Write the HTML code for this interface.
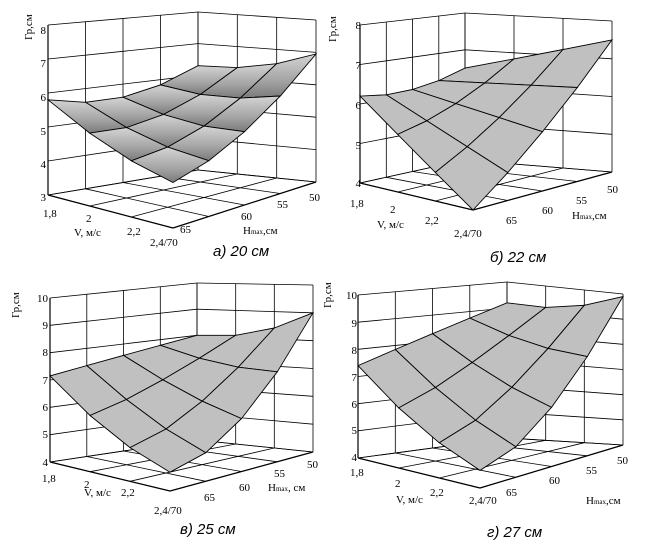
<!DOCTYPE html>
<html><head><meta charset="utf-8">
<style>
body{margin:0;background:#fff;}
svg{display:block;font-family:"Liberation Serif","DejaVu Serif",serif;}
.t{font-size:11px;fill:#000;}
.c{font-size:15px;font-style:italic;fill:#000;font-family:"Liberation Sans",sans-serif;}
</style></head><body>
<svg id="s" width="645" height="548" viewBox="0 0 645 548" xmlns="http://www.w3.org/2000/svg">
<defs>
<linearGradient id="ga" x1="0" y1="0" x2="0" y2="1">
<stop offset="0" stop-color="#d4d4d4"/><stop offset="0.6" stop-color="#a4a4a4"/><stop offset="1" stop-color="#7a7a7a"/>
</linearGradient>
</defs>
<g id="geo"></g>
<g class="t" text-anchor="end">
<text x="46" y="34">8</text><text x="46" y="67">7</text><text x="46" y="101">6</text><text x="46" y="135">5</text><text x="46" y="168">4</text><text x="46" y="201">3</text>
<text x="361" y="29">8</text><text x="361" y="69">7</text><text x="361" y="109">6</text><text x="361" y="149">5</text><text x="361" y="187">4</text>
<text x="48" y="302">10</text><text x="48" y="329">9</text><text x="48" y="356">8</text><text x="48" y="384">7</text><text x="48" y="411">6</text><text x="48" y="438">5</text><text x="48" y="466">4</text>
<text x="357" y="299">10</text><text x="357" y="327">9</text><text x="357" y="354">8</text><text x="357" y="381">7</text><text x="357" y="408">6</text><text x="357" y="434">5</text><text x="357" y="461">4</text>
</g>
<g class="t">
<text transform="translate(32,40) rotate(-90)">Гр,см</text>
<text transform="translate(336,42) rotate(-90)">Гр,см</text>
<text transform="translate(19,318) rotate(-90)">Гр,см</text>
<text transform="translate(331,308) rotate(-90)">Гр,см</text>

<text x="43" y="217">1,8</text><text x="86" y="222">2</text><text x="74" y="236">V, м/с</text><text x="127" y="235">2,2</text><text x="150" y="246">2,4/70</text>
<text x="180" y="233">65</text><text x="241" y="220">60</text><text x="277" y="208">55</text><text x="309" y="201">50</text>
<text x="243" y="234">H<tspan font-size="7">max</tspan>,см</text>

<text x="350" y="207">1,8</text><text x="390" y="213">2</text><text x="377" y="228">V, м/с</text><text x="425" y="224">2,2</text><text x="454" y="237">2,4/70</text>
<text x="506" y="224">65</text><text x="542" y="214">60</text><text x="576" y="204">55</text><text x="607" y="193">50</text>
<text x="572" y="219">H<tspan font-size="7">max</tspan>,см</text>

<text x="42" y="482">1,8</text><text x="84" y="488">2</text><text x="84" y="496">V, м/с</text><text x="121" y="496">2,2</text><text x="154" y="514">2,4/70</text>
<text x="204" y="501">65</text><text x="239" y="491">60</text><text x="274" y="477">55</text><text x="307" y="468">50</text>
<text x="268" y="491">H<tspan font-size="7">max</tspan>, см</text>

<text x="350" y="476">1,8</text><text x="395" y="487">2</text><text x="396" y="503">V, м/с</text><text x="430" y="496">2,2</text><text x="469" y="504">2,4/70</text>
<text x="506" y="496">65</text><text x="549" y="484">60</text><text x="586" y="474">55</text><text x="617" y="464">50</text>
<text x="586" y="504">H<tspan font-size="7">max</tspan>,см</text>
</g>
<text class="c" x="213" y="256">а) 20 см</text>
<text class="c" x="490" y="262">б) 22 см</text>
<text class="c" x="180" y="534">в) 25 см</text>
<text class="c" x="487" y="537">г) 27 см</text>
</svg>
<script>
var P=[
 {zmin:3,zmax:8,fl:[[48,195],[173,228],[316,182],[198,170]],tp:[[48,25],[173,53],[316,20],[198,12]],c:[5.8,4.3,6.95,6.3],s1:0.2,s2:0.45,pw:1,fill:"url(#ga)"},
 {zmin:4,zmax:8,fl:[[360,183],[473,210],[612,172],[465,160]],tp:[[360,25],[473,55],[612,21],[465,13]],c:[6.2,4.0,7.5,6.5],s1:0.0,s2:0.2,pw:1,fill:"#c0c0c0"},
 {zmin:4,zmax:10,fl:[[50,462],[170,491],[313,452],[197,440]],tp:[[50,298],[170,330],[313,285],[197,283]],c:[7.15,4.7,9.0,8.0],s1:0.3,s2:0,pw:1.8,fill:"#c0c0c0"},
 {zmin:4,zmax:10,fl:[[358,458],[480,488],[623,445],[507,438]],tp:[[358,295],[480,326],[623,294],[507,282]],c:[7.4,4.65,9.9,9.2],s1:0.3,s2:0,pw:1.7,fill:"#c0c0c0"}
];
function bl(q,u,v,k){return (1-u)*(1-v)*q[0][k]+u*(1-v)*q[1][k]+u*v*q[2][k]+(1-u)*v*q[3][k];}
function pr(p,u,v,z){var t=(z-p.zmin)/(p.zmax-p.zmin);
 return [bl(p.fl,u,v,0)*(1-t)+bl(p.tp,u,v,0)*t, bl(p.fl,u,v,1)*(1-t)+bl(p.tp,u,v,1)*t];}
var out="";
function ln(a,b,w,c){out+='<line x1="'+a[0].toFixed(1)+'" y1="'+a[1].toFixed(1)+'" x2="'+b[0].toFixed(1)+'" y2="'+b[1].toFixed(1)+'" stroke="'+(c||"#000")+'" stroke-width="'+(w||0.8)+'"/>';}
P.forEach(function(p){
 var k,z;
 for(z=p.zmin;z<=p.zmax;z++){ln(pr(p,0,0,z),pr(p,0,1,z));ln(pr(p,0,1,z),pr(p,1,1,z));}
 for(k=0;k<=4;k++){ln(pr(p,0,k/4,p.zmin),pr(p,0,k/4,p.zmax));ln(pr(p,0,k/4,p.zmin),pr(p,1,k/4,p.zmin));}
 for(k=0;k<=3;k++){ln(pr(p,k/3,1,p.zmin),pr(p,k/3,1,p.zmax));ln(pr(p,k/3,0,p.zmin),pr(p,k/3,1,p.zmin));}
 ln(pr(p,0,0,p.zmin),pr(p,1,0,p.zmin),1.2);ln(pr(p,1,0,p.zmin),pr(p,1,1,p.zmin),1.2);ln(pr(p,0,0,p.zmin),pr(p,0,0,p.zmax),1.2);
 function Z(u,v){var c=p.c;var w=Math.pow(v,1+(p.pw-1)*u);return (1-u)*(1-w)*c[0]+u*(1-w)*c[1]+u*w*c[2]+(1-u)*w*c[3]-p.s1*4*u*(1-u)-p.s2*4*v*(1-v);}
 var cells=[];
 for(var i=0;i<3;i++)for(var j=0;j<4;j++)cells.push([i,j]);
 cells.sort(function(a,b){return (a[0]+3-a[1]*0.75)-(b[0]+3-b[1]*0.75);});
 cells.forEach(function(c){var i=c[0],j=c[1];
  var pts=[[i,j],[i+1,j],[i+1,j+1],[i,j+1]].map(function(q){var u=q[0]/3,v=q[1]/4;return pr(p,u,v,Z(u,v));});
  out+='<polygon points="'+pts.map(function(a){return a[0].toFixed(1)+","+a[1].toFixed(1)}).join(" ")+'" fill="'+p.fill+'" stroke="#000" stroke-width="0.9"/>';
 });
});
document.getElementById("geo").innerHTML=out;
</script>
</body></html>
